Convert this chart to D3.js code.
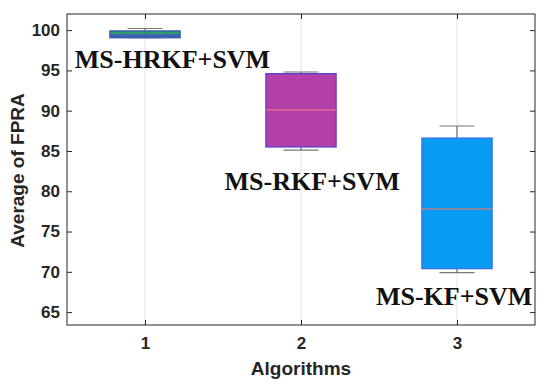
<!DOCTYPE html>
<html>
<head>
<meta charset="utf-8">
<script src="https://cdn.jsdelivr.net/npm/d3@7"></script>
<style>
  body { margin: 0; background: #fff; }
  svg { display: block; }
</style>
</head>
<body>
<div id="chart"></div>
<script>
// dados
const categorias = [1, 2, 3];
const nomes = ["MS-HRKF+SVM", "MS-RKF+SVM", "MS-KF+SVM"];
const minimos  = [99.05, 85.1, 69.9];
const q1s      = [99.05, 85.5, 70.4];
const medianas = [99.3, 90.1, 77.8];
const q3s      = [99.9, 94.6, 86.6];
const maximos  = [100.2, 94.8, 88.1];
const yTicks = [65, 70, 75, 80, 85, 90, 95, 100];

const W = 550, H = 387;
const margin = { top: 14, right: 15, bottom: 62, left: 67 };
const width = W - margin.left - margin.right;
const height = H - margin.top - margin.bottom;

const cores = [
  { fill: "#2f9a73", stroke: "#3558b0", med: "#3f5fb2" },
  { fill: "#b33fa8", stroke: "#5a3fd2", med: "#f0708e" },
  { fill: "#0a9cf2", stroke: "#3470e6", med: "#b28290" }
];

const svg = d3.select("#chart").append("svg")
  .attr("width", W).attr("height", H)
  .append("g")
  .attr("transform", `translate(${margin.left},${margin.top})`);

const x = d3.scaleLinear().domain([0.5, 3.5]).range([0, width]);
const y = d3.scaleLinear().domain([63.4, 102]).range([height, 0]);

// grelha vertical
svg.selectAll(".grid")
  .data(categorias).enter().append("line")
  .attr("x1", d => x(d)).attr("x2", d => x(d))
  .attr("y1", 0).attr("y2", height)
  .attr("stroke", "#e2e2e2").attr("stroke-width", 1);

// eixos
svg.append("g")
  .attr("transform", `translate(0,${height})`)
  .call(d3.axisBottom(x).tickValues(categorias).tickFormat(d3.format("d")).tickSizeInner(-5).tickSizeOuter(0).tickPadding(12));
svg.append("g")
  .call(d3.axisLeft(y).tickValues(yTicks).tickSizeInner(-5).tickSizeOuter(0).tickPadding(7));
// ticks do lado direito e topo (caixa)
svg.append("g").attr("transform", `translate(${width},0)`)
  .call(d3.axisRight(y).tickValues(yTicks).tickSizeInner(-5).tickSizeOuter(0).tickFormat(""));
svg.append("g")
  .call(d3.axisTop(x).tickValues(categorias).tickSizeInner(-5).tickSizeOuter(0).tickFormat(""));

svg.selectAll(".domain").remove();
svg.selectAll(".tick line").attr("stroke", "#262626");
svg.selectAll(".tick text")
  .style("font-family", "'Liberation Sans', Arial, sans-serif")
  .style("font-size", "17px").style("font-weight", "bold").attr("fill", "#262626");

svg.append("rect")
  .attr("width", width).attr("height", height)
  .attr("fill", "none").attr("stroke", "#262626").attr("stroke-width", 1);

const bw = x(0.95) - x(0.5);
const cw = bw / 2;

categorias.forEach((c, i) => {
  const cx = x(c);
  // bigodes
  svg.append("line").attr("x1", cx).attr("x2", cx)
    .attr("y1", y(maximos[i])).attr("y2", y(q3s[i]))
    .attr("stroke", "#555").attr("stroke-width", 1);
  svg.append("line").attr("x1", cx).attr("x2", cx)
    .attr("y1", y(q1s[i])).attr("y2", y(minimos[i]))
    .attr("stroke", "#555").attr("stroke-width", 1);
  [maximos[i], minimos[i]].forEach(v => {
    svg.append("line").attr("x1", cx - cw / 2).attr("x2", cx + cw / 2)
      .attr("y1", y(v)).attr("y2", y(v))
      .attr("stroke", "#777").attr("stroke-width", 1.2);
  });
  // caixa
  svg.append("rect")
    .attr("x", cx - bw / 2).attr("width", bw)
    .attr("y", y(q3s[i])).attr("height", y(q1s[i]) - y(q3s[i]))
    .attr("fill", cores[i].fill).attr("stroke", cores[i].stroke).attr("stroke-width", 1.3);
  // mediana
  svg.append("line").attr("x1", cx - bw / 2).attr("x2", cx + bw / 2)
    .attr("y1", y(medianas[i])).attr("y2", y(medianas[i]))
    .attr("stroke", cores[i].med).attr("stroke-width", i === 0 ? 3 : 1.3);
});

// rotulos dos algoritmos
const rotulos = [
  { x: 0.55, y: 95.3 },
  { x: 1.51, y: 80.2 },
  { x: 2.48, y: 65.9 }
];
svg.selectAll(".rotulo")
  .data(nomes).enter().append("text")
  .attr("x", (d, i) => x(rotulos[i].x))
  .attr("y", (d, i) => y(rotulos[i].y))
  .text(d => d)
  .style("font-family", "'Liberation Serif', 'DejaVu Serif', serif")
  .style("font-size", "26px").style("font-weight", "bold").attr("fill", "#111");

// titulos dos eixos
svg.append("text")
  .attr("x", width / 2).attr("y", height + 50)
  .attr("text-anchor", "middle")
  .text("Algorithms")
  .style("font-family", "'Liberation Sans', Arial, sans-serif")
  .style("font-size", "19px").style("font-weight", "bold").attr("fill", "#262626");

svg.append("text")
  .attr("transform", `translate(${-43},${height / 2 + 1}) rotate(-90)`)
  .attr("text-anchor", "middle")
  .text("Average of FPRA")
  .style("font-family", "'Liberation Sans', Arial, sans-serif")
  .style("font-size", "19px").style("font-weight", "bold").attr("fill", "#262626");
</script>
</body>
</html>
